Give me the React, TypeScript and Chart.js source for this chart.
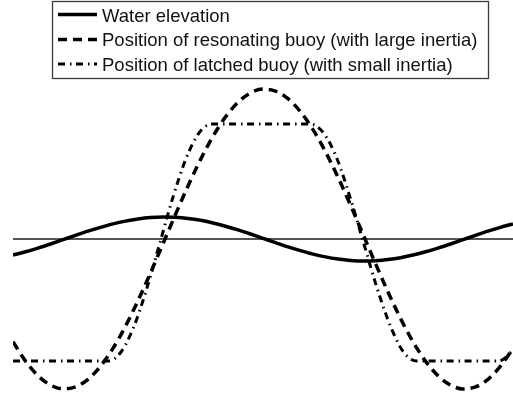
import { useEffect, useRef } from "react";
import { Chart, registerables } from "chart.js";

Chart.register(...registerables);

// Time samples (s) for the water and resonating buoy traces
const timeAxis = [
  0, 0.25, 0.5, 0.75, 1, 1.25, 1.5, 1.75, 2, 2.25, 2.5, 2.75, 3, 3.25, 3.5, 3.75,
  4, 4.25, 4.5, 4.75, 5, 5.25, 5.5, 5.75, 6, 6.25, 6.5, 6.75, 7, 7.25, 7.5, 7.75,
  8, 8.25, 8.5, 8.75, 9, 9.25, 9.5, 9.75, 10,
];

// Free-surface elevation
const waterElevation = [
  -16.0, -12.8, -9.1, -5.0, -0.7, 3.6, 7.8, 11.6, 15.1, 17.9, 20.0, 21.4, 22.0, 21.7, 20.6, 18.7,
  16.0, 12.8, 9.1, 5.0, 0.7, -3.6, -7.8, -11.6, -15.1, -17.9, -20.0, -21.4, -22.0, -21.7, -20.6, -18.7,
  -16.0, -12.8, -9.1, -5.0, -0.7, 3.6, 7.8, 11.6, 15.1,
];

// Buoy with large inertia, tuned to the wave period
const resonatingBuoy = [
  -102.7, -122.1, -136.7, -146.1, -149.9, -147.9, -140.3, -127.2, -109.4, -87.2, -61.7, -33.9, -4.7, 24.6, 53.0, 79.4,
  102.7, 122.1, 136.7, 146.1, 149.9, 147.9, 140.3, 127.2, 109.4, 87.2, 61.7, 33.9, 4.7, -24.6, -53.0, -79.4,
  -102.7, -122.1, -136.7, -146.1, -149.9, -147.9, -140.3, -127.2, -109.4,
];

// Latched buoy: held at each extreme, then released for a half swing
const latchedTimes = [
  0, 1.9, 2.16, 2.42, 2.68, 2.94, 3.2, 3.46, 3.72, 3.98,
  5.94, 6.21, 6.48, 6.74, 7.01, 7.28, 7.55, 7.81, 8.08, 9.72, 10,
];
const latchedBuoy = [
  -122, -122, -113, -87.3, -48.9, -3.5, 41.9, 80.3, 106, 115,
  115, 106, 80.3, 41.9, -3.5, -48.9, -87.3, -113, -122, -122, -111.6,
];

// Mean water level
const levelTimes = [0, 10];
const levelValues = [0, 0];

const seriesLabels = [
  "Water elevation",
  "Position of resonating buoy (with large inertia)",
  "Position of latched buoy (with small inertia)",
];

const toPoints = (xs: number[], ys: number[]) => xs.map((x, i) => ({ x, y: ys[i] }));

const legendFont = '18.5px "Liberation Sans", Arial, sans-serif';

const framedLegend = {
  id: "framedLegend",
  afterDraw(chart: any) {
    const ctx: CanvasRenderingContext2D = chart.ctx;
    const left = 52;
    const top = 1;
    const right = 488;
    const bottom = 78;
    ctx.save();
    ctx.fillStyle = "#ffffff";
    ctx.fillRect(left, top, right - left, bottom - top);
    ctx.strokeStyle = "#3a3a3a";
    ctx.lineWidth = 1.3;
    ctx.setLineDash([]);
    ctx.strokeRect(left + 0.5, top + 0.5, right - left, bottom - top);

    const rows = [14.5, 39.5, 64];
    const baselines = [21.5, 46, 70.5];
    ctx.font = legendFont;
    ctx.textBaseline = "alphabetic";
    chart.data.datasets.slice(0, 3).forEach((ds: any, i: number) => {
      ctx.save();
      ctx.strokeStyle = ds.borderColor;
      ctx.lineWidth = ds.borderWidth;
      ctx.setLineDash(ds.borderDash || []);
      ctx.lineCap = "butt";
      ctx.beginPath();
      ctx.moveTo(58, rows[i]);
      ctx.lineTo(97, rows[i]);
      ctx.stroke();
      ctx.restore();
      ctx.fillStyle = "#111111";
      ctx.fillText(ds.label, 102, baselines[i]);
    });
    ctx.restore();
  },
};

export default function App() {
  const canvasRef = useRef<HTMLCanvasElement | null>(null);

  useEffect(() => {
    const canvas = canvasRef.current;
    if (!canvas) return;
    const chart = new Chart(canvas, {
      type: "line",
      data: {
        datasets: [
          {
            label: seriesLabels[0],
            data: toPoints(timeAxis, waterElevation),
            borderColor: "#000000",
            borderWidth: 3.5,
            borderDash: [],
            pointRadius: 0,
            cubicInterpolationMode: "monotone",
          },
          {
            label: seriesLabels[1],
            data: toPoints(timeAxis, resonatingBuoy),
            borderColor: "#000000",
            borderWidth: 3.5,
            borderDash: [9, 6],
            pointRadius: 0,
            cubicInterpolationMode: "monotone",
          },
          {
            label: seriesLabels[2],
            data: toPoints(latchedTimes, latchedBuoy),
            borderColor: "#000000",
            borderWidth: 3,
            borderDash: [7, 5, 1.5, 4.5],
            pointRadius: 0,
            cubicInterpolationMode: "monotone",
          },
          {
            label: "",
            data: toPoints(levelTimes, levelValues),
            borderColor: "#555555",
            borderWidth: 2,
            pointRadius: 0,
          },
        ],
      },
      options: {
        animation: false,
        responsive: false,
        layout: { padding: { left: 13, right: 0, top: 0, bottom: 0 } },
        plugins: { legend: { display: false }, tooltip: { enabled: false } },
        scales: {
          x: { type: "linear", min: 0, max: 10, display: false },
          y: { type: "linear", min: -159, max: 239, display: false },
        },
      },
      plugins: [framedLegend],
    });
    return () => chart.destroy();
  }, []);

  return (
    <div style={{ position: "absolute", left: 0, top: 0, width: 513, height: 398, background: "#fff" }}>
      <canvas ref={canvasRef} width={513} height={398} style={{ display: "block" }} />
    </div>
  );
}
